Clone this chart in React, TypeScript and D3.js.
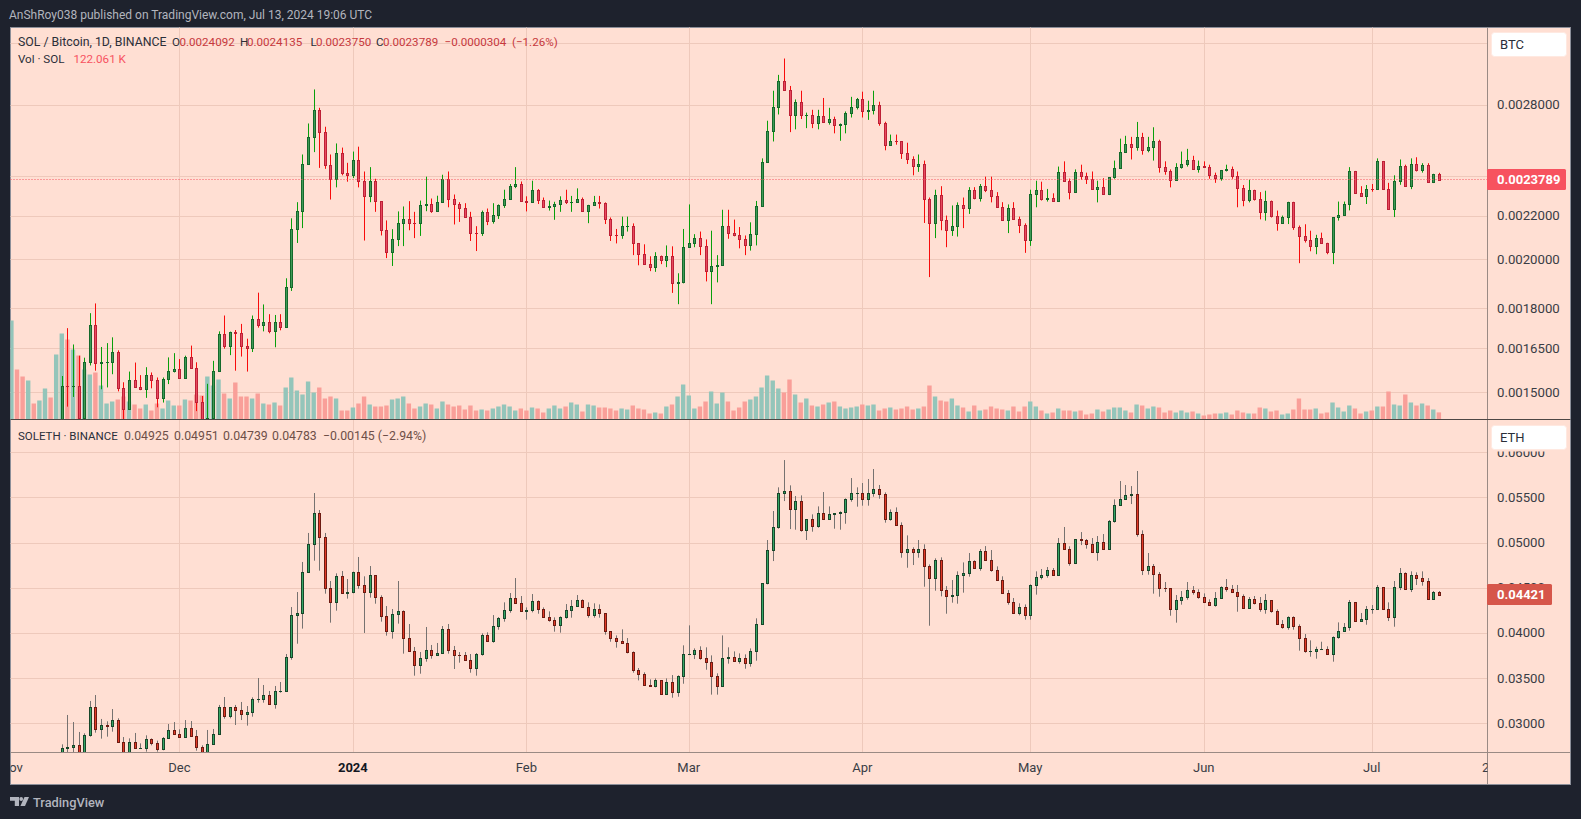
import * as d3 from "d3";

// SOL/BTC in 1e-6 BTC, SOL/ETH in 1e-5 ETH, volume in thousands of SOL.
// One candle per day from 2023-11-01. A day opens at the previous close.
const firstDay = new Date(Date.UTC(2023, 10, 1));
const btcFirstOpen = 1320;
const ethFirstOpen = 2610;

const btcClose = [
  1330,1320,1310,1340,1330,1350,1375,1360,1400,1521,
  1520,1521,1417,1602,1734,1596,1600,1602,1637,1513,
  1445,1541,1515,1509,1555,1539,1482,1542,1570,1576,
  1545,1617,1579,1467,1413,1418,1570,1702,1656,1710,
  1706,1656,1650,1759,1733,1745,1712,1745,1728,1884,
  2139,2222,2462,2611,2768,2639,2455,2384,2521,2412,
  2402,2483,2370,2295,2373,2269,2131,2033,2090,2164,
  2186,2164,2163,2249,2258,2220,2264,2381,2281,2258,
  2237,2191,2120,2119,2215,2176,2204,2249,2281,2345,
  2355,2273,2264,2328,2277,2240,2245,2258,2277,2265,
  2267,2281,2220,2249,2264,2262,2184,2111,2107,2151,
  2151,2072,2024,1981,1968,2017,1998,2017,1902,1906,
  2056,2074,2096,2059,1951,1970,1978,2151,2120,2107,
  2089,2063,2113,2245,2472,2643,2784,2948,2891,2735,
  2818,2735,2735,2690,2730,2695,2716,2680,2684,2746,
  2784,2831,2758,2768,2798,2687,2566,2587,2585,2518,
  2488,2450,2462,2281,2167,2302,2178,2131,2151,2249,
  2238,2327,2288,2345,2327,2295,2240,2178,2237,2184,
  2155,2086,2306,2327,2279,2284,2273,2420,2370,2318,
  2420,2396,2384,2330,2341,2307,2391,2437,2526,2569,
  2555,2610,2537,2552,2587,2447,2421,2378,2447,2462,
  2483,2436,2449,2447,2405,2387,2429,2435,2396,2338,
  2277,2327,2283,2215,2272,2200,2165,2191,2267,2147,
  2105,2087,2060,2096,2075,2033,2191,2205,2258,2424,
  2312,2295,2332,2331,2477,2332,2231,2369,2449,2345,
  2462,2429,2457,2365,2409,2378.9,
];
const btcHigh = [
  1340,1335,1325,1350,1345,1360,1385,1380,1410,1553,
  1723,1663,1623,1616,1780,1818,1654,1668,1689,1642,
  1532,1568,1599,1556,1583,1565,1548,1548,1617,1632,
  1611,1623,1659,1600,1487,1527,1605,1711,1771,1710,
  1716,1739,1684,1771,1861,1814,1776,1773,1776,1920,
  2187,2265,2512,2687,2893,2780,2668,2512,2573,2550,
  2467,2528,2555,2421,2444,2383,2270,2177,2136,2220,
  2244,2270,2218,2273,2394,2283,2297,2404,2421,2303,
  2265,2260,2218,2150,2224,2234,2260,2254,2327,2356,
  2444,2369,2294,2373,2330,2288,2273,2267,2294,2327,
  2296,2334,2288,2252,2296,2296,2264,2191,2137,2195,
  2195,2163,2073,2067,2014,2032,2017,2062,2058,1941,
  2137,2254,2113,2125,2089,2129,2019,2228,2228,2181,
  2146,2107,2168,2271,2491,2703,2885,2986,3094,2915,
  2831,2885,2751,2768,2768,2840,2780,2727,2687,2758,
  2847,2840,2879,2823,2885,2817,2697,2623,2623,2580,
  2577,2502,2512,2479,2288,2327,2345,2200,2249,2264,
  2288,2340,2340,2356,2394,2394,2315,2265,2254,2265,
  2195,2163,2327,2373,2368,2331,2309,2447,2475,2384,
  2432,2457,2415,2421,2373,2386,2391,2479,2600,2616,
  2610,2696,2633,2610,2665,2594,2475,2432,2465,2528,
  2543,2505,2479,2475,2457,2415,2429,2457,2447,2421,
  2351,2378,2327,2315,2322,2273,2224,2200,2267,2267,
  2153,2159,2129,2110,2120,2074,2191,2268,2268,2444,
  2424,2345,2351,2356,2491,2477,2362,2401,2485,2457,
  2491,2497,2465,2465,2409,2414,
];
const btcLow = [
  1310,1305,1295,1300,1315,1320,1345,1350,1350,1400,
  1453,1484,1410,1415,1589,1571,1509,1515,1559,1502,
  1412,1445,1513,1506,1481,1512,1451,1466,1526,1565,
  1545,1545,1579,1439,1405,1405,1418,1570,1648,1625,
  1571,1620,1568,1636,1725,1711,1704,1653,1715,1728,
  1868,2073,2141,2461,2525,2440,2435,2278,2339,2401,
  2368,2387,2339,2084,2265,2218,2107,2006,1972,2059,
  2059,2131,2095,2105,2221,2213,2220,2264,2240,2158,
  2170,2191,2082,2037,2105,2155,2162,2184,2237,2279,
  2335,2268,2220,2265,2256,2240,2224,2180,2218,2256,
  2218,2265,2220,2164,2249,2234,2160,2082,2071,2092,
  2125,2019,1975,1981,1950,1947,1980,1967,1860,1815,
  1899,2054,2054,2019,1907,1815,1903,1978,2092,2103,
  2049,2019,2039,2062,2243,2472,2584,2740,2885,2637,
  2653,2713,2660,2660,2653,2695,2680,2630,2588,2630,
  2722,2770,2722,2708,2740,2674,2535,2566,2566,2488,
  2461,2401,2419,2165,1925,2095,2131,2054,2105,2102,
  2141,2208,2279,2268,2315,2264,2240,2178,2118,2184,
  2118,2029,2060,2240,2273,2268,2268,2273,2370,2279,
  2312,2378,2356,2330,2264,2302,2300,2383,2437,2526,
  2485,2533,2511,2524,2479,2415,2404,2339,2373,2436,
  2447,2432,2415,2445,2383,2362,2373,2421,2383,2240,
  2245,2264,2273,2182,2176,2191,2129,2165,2160,2133,
  1984,2075,2036,2023,2071,2023,1980,2176,2205,2225,
  2309,2295,2256,2317,2327,2327,2229,2193,2352,2345,
  2330,2421,2415,2365,2361,2375,
];

const ethClose = [
  2600,2590,2580,2600,2590,2610,2625,2615,2650,2722,
  2733,2755,2666,2866,3176,2940,2976,2973,3032,2796,
  2666,2788,2729,2729,2821,2785,2711,2832,2921,2884,
  2851,2943,2862,2740,2678,2766,2877,3176,3083,3176,
  3150,3106,3120,3264,3264,3309,3213,3353,3353,3729,
  4194,4216,4670,4984,5323,5058,4493,4338,4626,4445,
  4449,4670,4534,4456,4637,4401,4183,4024,4205,4238,
  3947,3803,3648,3718,3807,3759,3773,4039,3814,3759,
  3751,3703,3615,3766,3973,3914,4072,4161,4249,4382,
  4327,4245,4249,4349,4260,4172,4146,4083,4172,4249,
  4293,4360,4282,4194,4260,4216,4017,3939,3906,3891,
  3784,3585,3541,3419,3415,3474,3319,3452,3341,3518,
  3762,3762,3806,3725,3673,3526,3415,3718,3729,3692,
  3718,3662,3795,4094,4548,4913,5168,5544,5566,5375,
  5456,5142,5256,5186,5323,5264,5312,5323,5334,5478,
  5544,5552,5485,5544,5589,5533,5256,5334,5197,4891,
  4924,4891,4924,4736,4603,4803,4470,4411,4415,4637,
  4659,4792,4721,4902,4803,4699,4589,4445,4338,4223,
  4282,4201,4530,4614,4637,4692,4644,4991,4932,4777,
  5035,5024,4987,4899,5002,4932,5234,5411,5478,5522,
  5533,5098,4699,4736,4655,4500,4493,4268,4360,4393,
  4470,4456,4400,4345,4312,4382,4504,4489,4456,4411,
  4279,4371,4334,4268,4360,4245,4102,4068,4172,4079,
  3947,3803,3803,3817,3825,3762,3950,4017,4061,4338,
  4135,4149,4260,4260,4504,4268,4179,4504,4659,4489,
  4637,4611,4578,4378,4448,4421,
];
const ethHigh = [
  2620,2610,2600,2620,2610,2630,2640,2640,2665,2766,
  3091,3013,2903,2888,3246,3312,3047,3021,3157,3054,
  2847,2832,2892,2777,2866,2832,2807,2847,2991,3013,
  2932,3035,3024,2925,2755,2925,2936,3202,3290,3176,
  3202,3235,3190,3286,3500,3423,3357,3412,3456,3766,
  4286,4452,4785,5106,5548,5360,5106,4574,4659,4685,
  4596,4678,4840,4626,4740,4637,4416,4297,4264,4574,
  4249,4098,3844,3788,4065,3866,3888,4076,4098,3855,
  3788,3788,3766,3777,3995,4006,4197,4175,4338,4441,
  4607,4408,4282,4430,4360,4282,4238,4172,4183,4319,
  4364,4419,4371,4338,4327,4315,4216,4017,3972,4039,
  3943,3795,3611,3563,3485,3496,3474,3496,3533,3530,
  3862,4083,3828,3851,3840,3751,3552,3972,3840,3795,
  3773,3762,3828,4161,4548,5028,5349,5611,5913,5633,
  5515,5522,5256,5312,5400,5559,5400,5323,5345,5489,
  5714,5611,5659,5703,5814,5637,5555,5367,5389,5223,
  5079,4947,5028,4980,4758,4825,4836,4518,4585,4681,
  4780,4884,4803,4928,4961,4917,4736,4626,4474,4386,
  4327,4315,4537,4681,4707,4729,4718,5050,5172,4958,
  5035,5116,5039,5050,5072,5094,5249,5478,5681,5637,
  5625,5792,5135,4884,4762,4673,4563,4493,4419,4463,
  4563,4518,4482,4437,4371,4452,4515,4596,4530,4530,
  4426,4397,4408,4397,4430,4360,4260,4142,4183,4183,
  4094,3987,3917,3847,3902,3851,3961,4116,4109,4364,
  4338,4220,4297,4308,4530,4504,4338,4574,4718,4670,
  4681,4670,4681,4607,4463,4463,
];
const ethLow = [
  2580,2570,2560,2570,2570,2590,2600,2600,2600,2650,
  2650,2650,2640,2640,2851,2895,2829,2851,2906,2785,
  2640,2666,2729,2718,2685,2755,2685,2700,2829,2884,
  2851,2851,2862,2696,2666,2666,2766,2877,3050,3054,
  2980,3035,2973,3072,3227,3227,3202,3161,3338,3353,
  3703,3880,4047,4670,4799,4689,4434,4113,4246,4438,
  4379,4438,4489,3999,4390,4323,4124,3969,3936,4102,
  3770,3803,3526,3548,3681,3714,3748,3770,3770,3600,
  3670,3700,3559,3526,3748,3914,3891,4035,4124,4223,
  4327,4238,4146,4227,4212,4172,4124,4013,4002,4157,
  4168,4304,4282,4168,4168,4168,3980,3902,3836,3880,
  3773,3559,3474,3419,3411,3397,3319,3312,3282,3293,
  3437,3762,3710,3703,3592,3316,3316,3415,3659,3692,
  3659,3603,3626,3692,4094,4537,4795,5153,5459,5149,
  5142,5120,5028,5120,5164,5264,5253,5153,5142,5208,
  5452,5397,5408,5408,5507,5485,5220,5242,5190,4832,
  4721,4751,4832,4511,4079,4467,4404,4212,4334,4323,
  4445,4622,4710,4688,4803,4677,4589,4445,4312,4212,
  4194,4146,4146,4423,4592,4611,4633,4644,4921,4744,
  4762,4972,4932,4887,4799,4921,4932,5220,5419,5474,
  5426,5065,4640,4644,4434,4400,4452,4190,4113,4312,
  4367,4423,4378,4345,4304,4290,4378,4456,4456,4234,
  4279,4279,4315,4234,4212,4223,4102,4046,4035,4035,
  3803,3780,3736,3714,3817,3758,3681,3935,4024,4024,
  4124,4146,4090,4212,4256,4256,4131,4068,4474,4489,
  4452,4530,4522,4378,4378,4419,
];

const volume = [
  1960,980,840,760,300,360,600,420,1280,1700,
  1580,1380,1260,980,880,920,660,300,340,380,
  440,340,280,200,280,160,300,200,360,260,
  260,380,360,480,460,840,660,780,500,400,
  720,440,440,400,500,300,280,320,260,620,
  820,560,480,740,520,620,400,440,400,160,
  160,220,300,440,280,240,240,260,380,400,
  440,300,200,240,300,280,200,340,280,240,
  260,180,260,160,180,160,200,240,280,240,
  160,200,160,220,200,120,200,260,200,240,
  320,280,140,280,260,220,220,200,160,200,
  180,260,200,180,100,120,100,240,280,440,
  680,460,200,240,340,540,300,520,340,160,
  220,340,380,440,620,860,760,600,520,780,
  480,320,400,260,240,280,320,340,240,200,
  220,240,280,260,280,160,200,220,180,200,
  240,180,200,240,660,440,360,340,400,260,
  220,140,260,160,180,240,200,180,160,240,
  140,240,340,240,160,100,120,200,160,160,
  140,160,80,100,180,140,180,220,220,160,
  120,280,260,200,240,220,120,160,120,160,
  120,140,100,60,80,100,100,120,80,160,
  120,100,100,220,200,140,160,80,100,180,
  400,180,180,200,100,120,320,220,140,260,
  200,100,140,160,240,240,540,280,260,480,
  320,260,300,260,180,122,
];

const btcTicks = [3200, 2800, 2400, 2200, 2000, 1800, 1650, 1500];
// 0.0032 and 0.0024 sit right under the BTC box and the price tag, so only their grid lines show
const btcTickLabels = [2800, 2200, 2000, 1800, 1650, 1500];
const ethTicks = [6000, 5500, 5000, 4500, 4000, 3500, 3000];

const days = d3.range(btcClose.length).map((i) => d3.utcDay.offset(firstDay, i));
const monthStarts = d3.utcMonth.range(new Date(Date.UTC(2023, 11, 1)), new Date(Date.UTC(2024, 7, 1)));

const FONT = "Roboto, sans-serif";
const BG = "#ffdfd3";
const FRAME = "#1e222d";
const GRID = "#eec9bb";
const LEFT = 10.5;
const AXIS_X = 1487.5;
const RIGHT = 1570.5;
const TOP = 27.5;
const PANE_SPLIT = 419.5;
const PANE_BOTTOM = 752.5;
const BOTTOM = 784.5;

const x = d3
  .scaleUtc()
  .domain([firstDay, new Date(Date.UTC(2024, 6, 1))])
  .range([11.4, 1371.7]);
const yBtc = d3.scaleLog().domain([1500, 2800]).range([392, 104.5]);
const yEth = d3.scaleLinear().domain([3000, 6000]).range([723.2, 452.2]);
const yVol = d3.scaleLinear().domain([0, 2000]).range([418.5, 318.5]);

const topColors = { upFill: "#3f9a56", upLine: "#14692b", upWick: "#089f0b", downFill: "#e84a5f", downLine: "#bd2036", downWick: "#f80b0b" };
const botColors = { upFill: "#35a565", upLine: "#17472a", upWick: "#767270", downFill: "#e23a26", downLine: "#6d1b12", downWick: "#767270" };

function Candles({ close, high, low, firstOpen, y, colors, clip }: any) {
  return (
    <g clipPath={`url(#${clip})`}>
      {close.map((c: number, i: number) => {
        const open = i === 0 ? firstOpen : close[i - 1];
        const up = c >= open;
        const cx = Math.round(x(days[i])) + 0.5;
        const top = Math.round(y(Math.max(open, c))) + 0.5;
        const bot = Math.round(y(Math.min(open, c))) + 0.5;
        return (
          <g key={i}>
            <line x1={cx} x2={cx} y1={y(high[i])} y2={y(low[i])} stroke={up ? colors.upWick : colors.downWick} />
            <rect
              x={cx - 1}
              y={top}
              width={2}
              height={Math.max(bot - top, 0.01)}
              fill={up ? colors.upFill : colors.downFill}
              stroke={up ? colors.upLine : colors.downLine}
            />
          </g>
        );
      })}
    </g>
  );
}

// text pieces of a legend row: [x, text, colour]
const topLegend: [number, string, string][] = [
  [18, "SOL / Bitcoin, 1D, BINANCE", "#2a2e39"],
  [172, "O", "#2a2e39"],
  [179.5, "0.0024092", "#c6383d"],
  [240, "H", "#2a2e39"],
  [247, "0.0024135", "#c6383d"],
  [310.5, "L", "#2a2e39"],
  [316, "0.0023750", "#c6383d"],
  [376, "C", "#2a2e39"],
  [383, "0.0023789", "#c6383d"],
  [444.5, "−0.0000304", "#c6383d"],
  [512, "(−1.26%)", "#c6383d"],
];
const ethLegend: [number, string, string][] = [
  [124, "0.04925", "#6e4f48"],
  [174, "0.04951", "#6e4f48"],
  [223, "0.04739", "#6e4f48"],
  [272, "0.04783", "#6e4f48"],
  [323, "−0.00145 (−2.94%)", "#6e4f48"],
];

export default function App() {
  const fmtMonth = d3.utcFormat("%b");
  return (
    <svg
      width={1581}
      height={819}
      style={{ position: "absolute", left: 0, top: 0, display: "block", fontFamily: FONT }}
    >
      <defs>
        <clipPath id="paneTop">
          <rect x={LEFT} y={TOP} width={AXIS_X - LEFT} height={PANE_SPLIT - TOP} />
        </clipPath>
        <clipPath id="paneBot">
          <rect x={LEFT} y={PANE_SPLIT} width={AXIS_X - LEFT} height={PANE_BOTTOM - PANE_SPLIT} />
        </clipPath>
        <clipPath id="timeAxis">
          <rect x={LEFT} y={PANE_BOTTOM} width={AXIS_X - LEFT} height={BOTTOM - PANE_BOTTOM} />
        </clipPath>
      </defs>

      <rect width={1581} height={819} fill={FRAME} />
      <rect x={LEFT} y={TOP} width={RIGHT - LEFT} height={BOTTOM - TOP} fill={BG} stroke="#8c8f99" />

      <text x={9} y={18.5} fontSize={12} fill="#b2b5be">
        AnShRoy038 published on TradingView.com, Jul 13, 2024 19:06 UTC
      </text>

      {/* grid */}
      {monthStarts.map((d) => (
        <line
          key={+d}
          x1={Math.round(x(d)) + 0.5}
          x2={Math.round(x(d)) + 0.5}
          y1={TOP}
          y2={PANE_BOTTOM}
          stroke={GRID}
        />
      ))}
      {btcTicks.map((t) => (
        <line key={t} x1={LEFT} x2={AXIS_X} y1={Math.round(yBtc(t)) + 0.5} y2={Math.round(yBtc(t)) + 0.5} stroke={GRID} />
      ))}
      {ethTicks.map((t) => (
        <line key={t} x1={LEFT} x2={AXIS_X} y1={Math.round(yEth(t)) + 0.5} y2={Math.round(yEth(t)) + 0.5} stroke={GRID} />
      ))}

      {/* volume */}
      <g clipPath="url(#paneTop)">
        {volume.map((v, i) => {
          const open = i === 0 ? btcFirstOpen : btcClose[i - 1];
          return (
            <rect
              key={i}
              x={x(days[i]) - 2.2}
              y={yVol(v)}
              width={4.4}
              height={yVol(0) - yVol(v) + 1}
              fill={btcClose[i] >= open ? "#94c5ba" : "#f99f99"}
            />
          );
        })}
      </g>

      <Candles close={btcClose} high={btcHigh} low={btcLow} firstOpen={btcFirstOpen} y={yBtc} colors={topColors} clip="paneTop" />
      <Candles close={ethClose} high={ethHigh} low={ethLow} firstOpen={ethFirstOpen} y={yEth} colors={botColors} clip="paneBot" />

      {/* last price line */}
      <line x1={LEFT} x2={AXIS_X} y1={179.5} y2={179.5} stroke="#f7525f" strokeDasharray="1 2" />

      {/* pane borders */}
      <line x1={AXIS_X} x2={AXIS_X} y1={TOP} y2={BOTTOM} stroke="#9a8a84" />
      <line x1={LEFT} x2={RIGHT} y1={PANE_SPLIT} y2={PANE_SPLIT} stroke="#4d4744" />
      <line x1={LEFT} x2={RIGHT} y1={PANE_BOTTOM} y2={PANE_BOTTOM} stroke="#9a8a84" />

      {/* legends */}
      <g fontSize={12.3}>
        {topLegend.map(([lx, s, c], i) => (
          <text key={lx} x={lx} y={45.5} fill={c} fontSize={i === 0 ? 12.3 : 11.6}>{s}</text>
        ))}
        <text x={18} y={63} fontSize={11.6} fill="#2a2e39">Vol · SOL</text>
        <text x={73.5} y={63} fontSize={11.6} fill="#f7525f">122.061 K</text>
        <text x={18} y={439.5} fontSize={11.5} fill="#2a2e39">SOLETH · BINANCE</text>
        {ethLegend.map(([lx, s, c]) => (
          <text key={lx} x={lx} y={439.5} fill={c}>{s}</text>
        ))}
      </g>

      {/* price axes */}
      <g fontSize={13.2} fill="#3a3d45">
        {btcTickLabels.map((t) => (
          <text key={t} x={1497} y={yBtc(t) + 4.5}>{(t / 1e6).toFixed(7)}</text>
        ))}
        {ethTicks.map((t) => (
          <text key={t} x={1497} y={yEth(t) + 4.5}>{(t / 1e5).toFixed(5)}</text>
        ))}
      </g>

      {/* currency boxes and last price tags */}
      <rect x={1488} y={30} width={82} height={21} fill={BG} />
      <rect x={1491.5} y={32.5} width={75} height={24} rx={3} fill="#fff" stroke="#ffe9e1" />
      <text x={1500} y={49} fontSize={13} fill="#2a2e39">BTC</text>
      <rect x={1488} y={424} width={82} height={27.5} fill={BG} />
      <rect x={1491.5} y={425.5} width={75} height={24} rx={3} fill="#fff" stroke="#ffe9e1" />
      <text x={1500} y={442} fontSize={13} fill="#2a2e39">ETH</text>

      <rect x={1487} y={169} width={79} height={21} rx={1.5} fill="#f7525f" />
      <text x={1497} y={184} fontSize={13} fontWeight={700} fill="#fff">{(btcClose[255] / 1e6).toFixed(7)}</text>
      <rect x={1487} y={584} width={65} height={21} rx={1.5} fill="#d6564a" />
      <text x={1497} y={599} fontSize={13} fontWeight={700} fill="#fff">{(ethClose[255] / 1e5).toFixed(5)}</text>

      {/* time axis */}
      <g clipPath="url(#timeAxis)" fontSize={13} fill="#3a3d45" textAnchor="middle">
        <text x={x(firstDay)} y={772}>Nov</text>
        {monthStarts.map((d) => (
          <text
            key={+d}
            x={x(d)}
            y={772}
            fontWeight={d.getUTCMonth() === 0 ? 700 : 400}
            fill={d.getUTCMonth() === 0 ? "#131722" : "#3a3d45"}
          >
            {d.getUTCMonth() === 0 ? d.getUTCFullYear() : fmtMonth(d)}
          </text>
        ))}
        <text x={x(new Date(Date.UTC(2024, 6, 22)))} y={772}>22</text>
      </g>

      {/* footer logo */}
      <g fill="#b2b5be">
        <path d="M10 797h9v9h-4.2v-5.2H10z" />
        <circle cx={21.2} cy={799} r={1.9} />
        <path d="M24.5 797H29l-4 9h-4.6z" />
        <text x={33} y={806.5} fontSize={12.8} fontWeight={500}>TradingView</text>
      </g>
    </svg>
  );
}
